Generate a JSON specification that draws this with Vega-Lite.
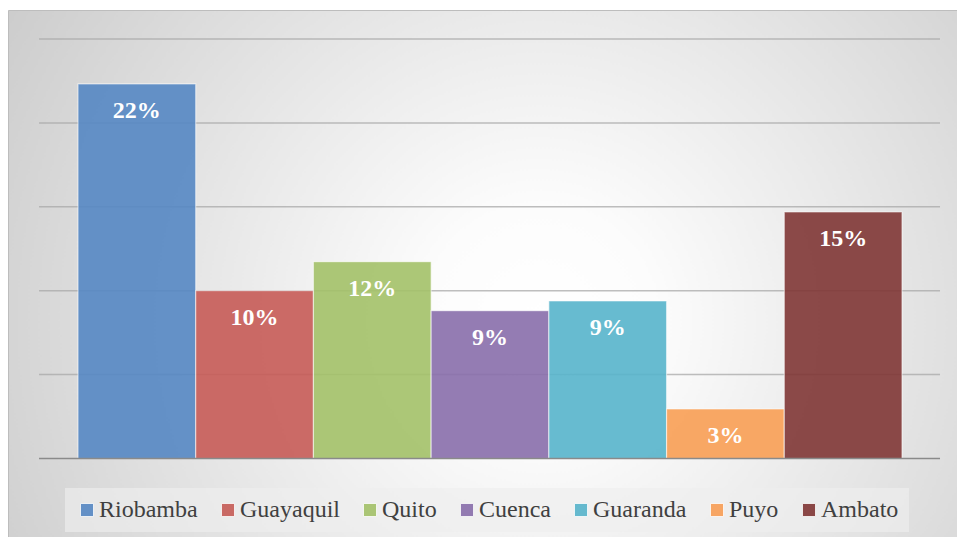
{
  "$schema": "https://vega.github.io/schema/vega-lite/v6.json",
  "width": 957,
  "height": 537,
  "autosize": {"type": "fit", "contains": "padding"},
  "padding": {"left": 8, "top": 10, "right": 0, "bottom": 0},
  "background": "#ffffff",
  "config": {
    "view": {
      "stroke": "#bdbdbd",
      "strokeWidth": 1,
      "fill": {
        "gradient": "radial",
        "x1": 0.56, "y1": 0.55, "r1": 0,
        "x2": 0.56, "y2": 0.55, "r2": 0.8,
        "stops": [
          {"offset": 0, "color": "#ffffff"},
          {"offset": 0.15, "color": "#fcfcfc"},
          {"offset": 1, "color": "#bfbfbf"}
        ]
      }
    }
  },
  "datasets": {
    "cities": [
      {"ciudad": "Riobamba", "valor": 0.2232},
      {"ciudad": "Guayaquil", "valor": 0.1000},
      {"ciudad": "Quito", "valor": 0.1173},
      {"ciudad": "Cuenca", "valor": 0.0881},
      {"ciudad": "Guaranda", "valor": 0.0939},
      {"ciudad": "Puyo", "valor": 0.0295},
      {"ciudad": "Ambato", "valor": 0.1469}
    ],
    "grid": [
      {"g": 0.05}, {"g": 0.10}, {"g": 0.15}, {"g": 0.20}, {"g": 0.25}
    ]
  },
  "resolve": {"scale": {"x": "independent"}},
  "layer": [
    {
      "data": {"name": "grid"},
      "mark": {"type": "rule", "color": "#a8a8a8", "strokeWidth": 1.5, "opacity": 0.75},
      "encoding": {
        "y": {"field": "g", "type": "quantitative", "scale": {"domain": [-0.04678, 0.26728], "nice": false, "zero": false}, "axis": null},
        "x": {"datum": 0.0327, "type": "quantitative", "scale": {"domain": [0, 1], "nice": false, "zero": false}, "axis": null},
        "x2": {"datum": 0.9821}
      }
    },
    {
      "layer": [
        {
          "data": {"name": "cities"},
          "mark": {"type": "bar", "fillOpacity": 0.9, "stroke": "#ffffff", "strokeOpacity": 0.55, "strokeWidth": 1.2},
          "encoding": {
            "x": {
              "field": "ciudad", "type": "nominal", "sort": null, "axis": null,
              "scale": {"paddingInner": 0, "paddingOuter": 0.531, "align": 0.56}
            },
            "y": {"field": "valor", "type": "quantitative", "axis": null},
            "y2": {"datum": 0},
            "color": {
              "field": "ciudad", "type": "nominal",
              "scale": {
                "domain": ["Riobamba", "Guayaquil", "Quito", "Cuenca", "Guaranda", "Puyo", "Ambato"],
                "range": ["#5587c3", "#c65b56", "#a3c168", "#886eab", "#56b4cb", "#f89e54", "#803635"]
              },
              "legend": {
                "orient": "none",
                "legendX": 57,
                "legendY": 478,
                "direction": "horizontal",
                "columns": 7,
                "title": null,
                "symbolType": "square",
                "symbolSize": 169,
                "symbolStrokeColor": "#ffffff",
                "symbolStrokeWidth": 0.8,
                "symbolOpacity": 0.9,
                "labelFont": "Liberation Serif",
                "labelFontSize": 24,
                "labelColor": "#404040",
                "labelOffset": 0,
                "labelLimit": 300,
                "columnPadding": 18,
                "padding": 10,
                "fillColor": "rgba(238,238,238,0.65)",
                "strokeColor": null
              }
            }
          }
        },
        {
          "data": {"name": "cities"},
          "mark": {"type": "text", "font": "Liberation Serif", "fontSize": 24, "fontWeight": "bold", "color": "#ffffff", "baseline": "alphabetic", "align": "center", "dy": 34},
          "encoding": {
            "x": {"field": "ciudad", "type": "nominal", "sort": null},
            "y": {"field": "valor", "type": "quantitative"},
            "text": {"field": "valor", "type": "quantitative", "format": ".0%"}
          }
        }
      ]
    },
    {
      "data": {"values": [{"b": 0}]},
      "mark": {"type": "rule", "color": "#8a8a8a", "strokeWidth": 1.5},
      "encoding": {
        "y": {"field": "b", "type": "quantitative"},
        "x": {"datum": 0.0327, "type": "quantitative", "scale": {"domain": [0, 1], "nice": false, "zero": false}, "axis": null},
        "x2": {"datum": 0.9821}
      }
    }
  ]
}
